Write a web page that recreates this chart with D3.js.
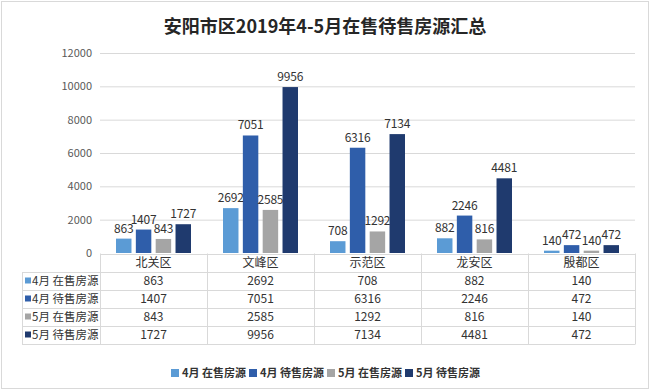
<!DOCTYPE html>
<html lang="zh">
<head>
<meta charset="utf-8">
<title>安阳市区2019年4-5月在售待售房源汇总</title>
<script src="https://d3js.org/d3.v7.min.js"></script>
<style>
  body { margin: 0; background: #fff; }
  svg { display: block; font-family: "Noto Sans CJK SC", "Noto Sans", sans-serif; }
</style>
</head>
<body>
<div id="chart"></div>
<script>
// data
const districts = ["北关区", "文峰区", "示范区", "龙安区", "殷都区"];
const seriesNames = ["4月 在售房源", "4月 待售房源", "5月 在售房源", "5月 待售房源"];
const apr_onSale = [863, 2692, 708, 882, 140];
const apr_pending = [1407, 7051, 6316, 2246, 472];
const may_onSale = [843, 2585, 1292, 816, 140];
const may_pending = [1727, 9956, 7134, 4481, 472];
const yTicks = [0, 2000, 4000, 6000, 8000, 10000, 12000];
const colors = ["#5b9bd5", "#2f5eaa", "#a5a5a5", "#1f3a6e"];

const series = [apr_onSale, apr_pending, may_onSale, may_pending];

const W = 650, H = 390;
const svg = d3.select("#chart").append("svg")
  .attr("width", W).attr("height", H);

// outer frame
svg.append("rect")
  .attr("x", 1.5).attr("y", 1.5).attr("width", W - 3).attr("height", H - 3)
  .attr("fill", "#fff").attr("stroke", "#d9d9d9");

// title
svg.append("text")
  .attr("x", 325).attr("y", 33)
  .attr("text-anchor", "middle")
  .attr("font-size", 18).attr("font-weight", "bold").attr("fill", "#262626")
  .text("安阳市区2019年4-5月在售待售房源汇总");

const plotL = 100, plotR = 635;
const y = d3.scaleLinear().domain([0, 12000]).range([253, 53]);
const x0 = d3.scaleBand().domain(districts).range([plotL, plotR]);
const x1 = d3.scaleBand().domain(d3.range(4)).range([16, 91]).paddingInner(0.22);

// grid lines
svg.append("g").selectAll("line")
  .data(yTicks.filter(d => d > 0))
  .join("line")
  .attr("x1", plotL).attr("x2", plotR)
  .attr("y1", d => y(d) + 0.5).attr("y2", d => y(d) + 0.5)
  .attr("stroke", "#d9d9d9");

// y axis labels
svg.append("g").selectAll("text")
  .data(yTicks)
  .join("text")
  .attr("x", 92).attr("y", d => y(d) + 4)
  .attr("text-anchor", "end")
  .attr("font-size", 11).attr("fill", "#595959")
  .text(d => d);

// bars
const groups = svg.append("g").selectAll("g")
  .data(districts)
  .join("g")
  .attr("transform", d => `translate(${x0(d)},0)`);

groups.selectAll("rect")
  .data((d, i) => series.map((s, k) => ({ k, v: s[i] })))
  .join("rect")
  .attr("x", d => x1(d.k))
  .attr("y", d => y(d.v))
  .attr("width", x1.bandwidth())
  .attr("height", d => y(0) - y(d.v))
  .attr("fill", d => colors[d.k]);

groups.selectAll("text")
  .data((d, i) => series.map((s, k) => ({ k, v: s[i] })))
  .join("text")
  .attr("x", d => x1(d.k) + x1.bandwidth() / 2)
  .attr("y", d => y(d.v) - 6)
  .attr("text-anchor", "middle")
  .attr("font-size", 12).attr("letter-spacing", -0.2).attr("fill", "#333")
  .text(d => d.v);

// data table
const rowH = 18;
const tTop = y(0) + 0.5;
const labelL = 22;
const tg = svg.append("g").attr("stroke", "#d9d9d9").attr("fill", "none");
// horizontal lines
for (let r = 0; r <= 5; r++) {
  const yy = Math.round(tTop + r * rowH) + 0.5;
  tg.append("line")
    .attr("x1", r === 0 ? plotL : labelL).attr("x2", plotR)
    .attr("y1", yy).attr("y2", yy);
}
// vertical lines
const tBottom = Math.round(tTop + 5 * rowH) + 0.5;
tg.append("line").attr("x1", labelL + 0.5).attr("x2", labelL + 0.5)
  .attr("y1", Math.round(tTop + rowH) + 0.5).attr("y2", tBottom);
districts.forEach(d => {
  const xx = Math.round(x0(d)) + 0.5;
  tg.append("line").attr("x1", xx).attr("x2", xx).attr("y1", tTop).attr("y2", tBottom);
});
tg.append("line").attr("x1", plotR + 0.5).attr("x2", plotR + 0.5).attr("y1", tTop).attr("y2", tBottom);

// header row
svg.append("g").selectAll("text")
  .data(districts)
  .join("text")
  .attr("x", d => x0(d) + x0.bandwidth() / 2)
  .attr("y", tTop + rowH / 2 + 4)
  .attr("text-anchor", "middle")
  .attr("font-size", 12).attr("fill", "#333")
  .text(d => d);

// table rows
series.forEach((s, k) => {
  const cy = tTop + (k + 1) * rowH + rowH / 2;
  svg.append("rect")
    .attr("x", 25).attr("y", cy - 3).attr("width", 6).attr("height", 6)
    .attr("fill", colors[k]);
  svg.append("text")
    .attr("x", 32).attr("y", cy + 4)
    .attr("font-size", 11.5).attr("fill", "#333")
    .text(seriesNames[k]);
  svg.append("g").selectAll("text")
    .data(s)
    .join("text")
    .attr("x", (d, i) => x0(districts[i]) + x0.bandwidth() / 2)
    .attr("y", cy + 4.5)
    .attr("text-anchor", "middle")
    .attr("font-size", 12).attr("fill", "#333")
    .text(d => d);
});

// legend
const legend = svg.append("g").attr("transform", "translate(171,373)");
let lx = 0;
seriesNames.forEach((n, k) => {
  legend.append("rect")
    .attr("x", lx).attr("y", -4).attr("width", 8).attr("height", 8)
    .attr("fill", colors[k]);
  const t = legend.append("text")
    .attr("x", lx + 11).attr("y", 4)
    .attr("font-size", 11).attr("font-weight", "bold").attr("fill", "#333")
    .text(n);
  lx += 11 + t.node().getComputedTextLength() + 3;
});
</script>
</body>
</html>
